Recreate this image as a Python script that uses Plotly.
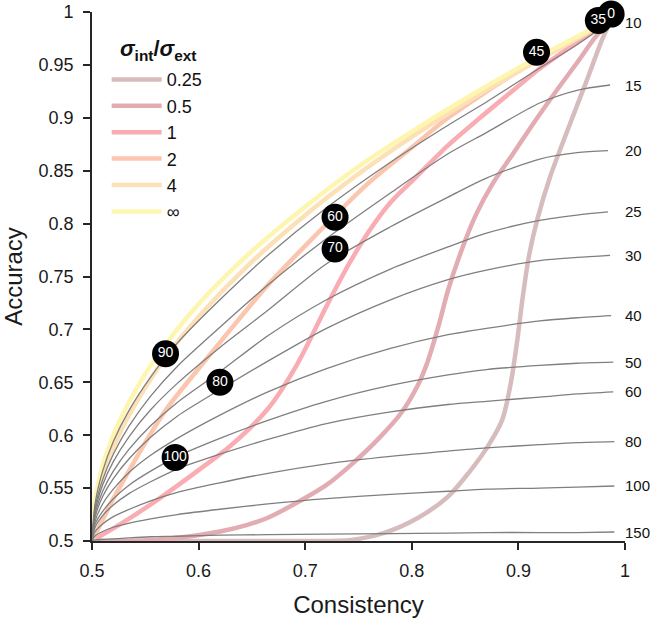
import plotly.graph_objects as go

# ---------------- data ----------------
ratio_labels = ["0.25", "0.5", "1", "2", "4", "∞"]
ratio_colors = ["#d7bcbe", "#e3acb2", "#f9adb2", "#fbc6ad", "#fce1b7", "#fef6ae"]

c_r025 = [0.5, 0.6, 0.7, 0.743, 0.775, 0.806, 0.834, 0.853, 0.871, 0.885, 0.893, 0.899, 0.904, 0.91, 0.918, 0.93, 0.946, 0.964, 0.979, 0.986]
a_r025 = [0.5, 0.5, 0.5, 0.501, 0.508, 0.522, 0.542, 0.564, 0.589, 0.615, 0.65, 0.69, 0.73, 0.77, 0.805, 0.845, 0.888, 0.935, 0.975, 0.99]

c_r05 = [0.5, 0.54, 0.58, 0.62, 0.645, 0.665, 0.69, 0.72, 0.743, 0.77, 0.79, 0.806, 0.815, 0.825, 0.834, 0.846, 0.86, 0.876, 0.895, 0.915, 0.936, 0.955, 0.972, 0.987]
a_r05 = [0.5, 0.5, 0.503, 0.509, 0.515, 0.522, 0.535, 0.553, 0.572, 0.598, 0.621, 0.648, 0.670, 0.703, 0.737, 0.773, 0.808, 0.838, 0.866, 0.896, 0.926, 0.952, 0.976, 0.993]

c_r1 = [0.5, 0.53, 0.56, 0.6, 0.63, 0.665, 0.693, 0.72, 0.74, 0.76, 0.78, 0.803, 0.834, 0.864, 0.9, 0.918, 0.95, 0.987]
a_r1 = [0.5, 0.518, 0.538, 0.567, 0.59, 0.625, 0.668, 0.722, 0.76, 0.793, 0.82, 0.843, 0.874, 0.9, 0.93, 0.945, 0.968, 0.993]

c_r2 = [0.5, 0.505, 0.51, 0.52, 0.53, 0.55, 0.57, 0.6, 0.63, 0.665, 0.7, 0.759, 0.8, 0.834, 0.9, 0.95, 0.988]
a_r2 = [0.5, 0.51, 0.52, 0.54, 0.558, 0.593, 0.625, 0.663, 0.7, 0.742, 0.779, 0.838, 0.872, 0.9, 0.944, 0.972, 0.993]

c_r4 = [0.5, 0.502, 0.505, 0.51, 0.52, 0.53, 0.55, 0.57, 0.6, 0.65, 0.7, 0.75, 0.8, 0.85, 0.9, 0.95, 0.988]
a_r4 = [0.5, 0.525, 0.541, 0.561, 0.588, 0.61, 0.645, 0.675, 0.712, 0.764, 0.808, 0.847, 0.882, 0.914, 0.944, 0.972, 0.994]

c_rinf = [0.5, 0.502, 0.505, 0.51, 0.52, 0.53, 0.55, 0.57, 0.6, 0.65, 0.7, 0.75, 0.8, 0.85, 0.9, 0.95, 0.99]
a_rinf = [0.5, 0.532, 0.55, 0.571, 0.6, 0.622, 0.658, 0.687, 0.724, 0.774, 0.816, 0.854, 0.887, 0.918, 0.947, 0.974, 0.995]

ratio_c = [c_r025, c_r05, c_r1, c_r2, c_r4, c_rinf]
ratio_a = [a_r025, a_r05, a_r1, a_r2, a_r4, a_rinf]

# gray iso-noise curves
noise_labels = ["10", "15", "20", "25", "30", "40", "50", "60", "80", "100", "150"]
gray_c = [0.5, 0.503, 0.51, 0.52, 0.535, 0.555, 0.58, 0.62, 0.665, 0.72, 0.78, 0.834, 0.87, 0.92, 0.955]
gray_end_c = [0.985, 0.986, 0.984, 0.984, 0.986, 0.987, 0.989, 0.989, 0.99, 0.99, 0.99]
g10 = [0.5, 0.536, 0.566, 0.594, 0.624, 0.655, 0.687, 0.728, 0.770, 0.815, 0.858, 0.893, 0.915, 0.947, 0.969, 0.99]
g15 = [0.5, 0.532, 0.558, 0.582, 0.609, 0.637, 0.665, 0.702, 0.742, 0.786, 0.829, 0.866, 0.886, 0.914, 0.926, 0.931]
g20 = [0.5, 0.529, 0.553, 0.575, 0.599, 0.624, 0.649, 0.683, 0.718, 0.762, 0.797, 0.825, 0.843, 0.861, 0.867, 0.869]
g25 = [0.5, 0.526, 0.547, 0.566, 0.587, 0.609, 0.631, 0.66, 0.694, 0.728, 0.757, 0.778, 0.791, 0.803, 0.808, 0.811]
g30 = [0.5, 0.523, 0.542, 0.559, 0.578, 0.598, 0.618, 0.643, 0.670, 0.701, 0.728, 0.747, 0.756, 0.765, 0.768, 0.770]
g40 = [0.5, 0.519, 0.535, 0.549, 0.565, 0.581, 0.597, 0.619, 0.641, 0.663, 0.682, 0.695, 0.701, 0.708, 0.711, 0.713]
g50 = [0.5, 0.516, 0.528, 0.540, 0.553, 0.566, 0.580, 0.597, 0.614, 0.632, 0.647, 0.657, 0.662, 0.666, 0.668, 0.669]
g60 = [0.5, 0.513, 0.524, 0.534, 0.545, 0.556, 0.568, 0.582, 0.596, 0.611, 0.622, 0.629, 0.632, 0.636, 0.639, 0.641]
g80 = [0.5, 0.509, 0.516, 0.523, 0.530, 0.538, 0.546, 0.555, 0.564, 0.573, 0.580, 0.585, 0.588, 0.591, 0.593, 0.594]
g100 = [0.5, 0.505, 0.509, 0.513, 0.517, 0.521, 0.525, 0.530, 0.535, 0.540, 0.544, 0.547, 0.549, 0.550, 0.551, 0.552]
g150 = [0.5, 0.501, 0.5015, 0.502, 0.503, 0.504, 0.5045, 0.5055, 0.506, 0.5065, 0.507, 0.5075, 0.508, 0.508, 0.508, 0.5085]
gray_a = [g10, g15, g20, g25, g30, g40, g50, g60, g80, g100, g150]

# black numbered markers
marker_labels = ["0", "35", "45", "60", "70", "90", "80", "100"]
marker_c = [0.987, 0.975, 0.917, 0.728, 0.728, 0.569, 0.620, 0.578]
marker_a = [0.998, 0.992, 0.962, 0.806, 0.776, 0.677, 0.650, 0.579]

FONT = "Liberation Sans, Arial, Helvetica, sans-serif"
AXC = "#262626"

fig = go.Figure()

for lab, col, cc, aa in zip(ratio_labels, ratio_colors, ratio_c, ratio_a):
    fig.add_trace(go.Scatter(
        x=cc, y=aa, mode="lines", name=lab,
        line=dict(color=col, width=4.5, shape="spline", smoothing=0.8),
        showlegend=True, hoverinfo="skip"))

for lab, ce, aa in zip(noise_labels, gray_end_c, gray_a):
    fig.add_trace(go.Scatter(
        x=gray_c + [ce], y=aa, mode="lines", name=lab,
        line=dict(color="#7f7f7f", width=1.3, shape="spline", smoothing=0.8),
        showlegend=False, hoverinfo="skip"))
    fig.add_annotation(x=0.998, y=aa[-1], xref="x", yref="y", text=lab,
                       showarrow=False, xanchor="left", yanchor="middle",
                       font=dict(family=FONT, size=15, color="#111111"))

fig.add_trace(go.Scatter(
    x=marker_c, y=marker_a, mode="markers+text", text=marker_labels,
    textposition="middle center",
    textfont=dict(family=FONT, size=14, color="white"),
    marker=dict(size=27, color="black"),
    showlegend=False, hoverinfo="skip", cliponaxis=False))

# legend title as a separate text
fig.add_annotation(xref="paper", yref="paper", x=0.049, y=0.929,
                   xanchor="left", yanchor="middle", showarrow=False,
                   text="<b><i>σ</i><sub>int</sub>/<i>σ</i><sub>ext</sub></b>",
                   font=dict(family=FONT, size=22, color="#111111"))

fig.update_layout(
    width=650, height=619,
    margin=dict(l=92, r=25, t=12, b=78, autoexpand=False),
    paper_bgcolor="white", plot_bgcolor="white",
    font=dict(family=FONT, color="#1a1a1a"),
    legend=dict(
        x=0.0275, y=0.907, xanchor="left", yanchor="top",
        bgcolor="rgba(0,0,0,0)",
        font=dict(family=FONT, size=18, color="#111111"),
        itemwidth=50,
        tracegroupgap=0,
    ),
)

axis_common = dict(
    showline=True, linecolor=AXC, linewidth=1.6,
    ticks="outside", ticklen=7, tickwidth=1.6, tickcolor=AXC,
    showgrid=False, zeroline=False, automargin=False,
    ticklabelstandoff=6,
    tickfont=dict(family=FONT, size=18, color="#1a1a1a"),
)
fig.update_xaxes(range=[0.5, 1], dtick=0.1, tick0=0.5,
                 title=dict(text="Consistency", font=dict(family=FONT, size=24), standoff=16),
                 **axis_common)
fig.update_yaxes(range=[0.5, 1], dtick=0.05, tick0=0.5,
                 title=dict(text="Accuracy", font=dict(family=FONT, size=24), standoff=22),
                 **axis_common)

# remove the page's default 8 px body margin so the 650x619 figure fills the window
fig.write_html("out.html",
               config={"displayModeBar": False},
               post_script="document.body.style.margin='0';document.body.style.overflow='hidden';")
